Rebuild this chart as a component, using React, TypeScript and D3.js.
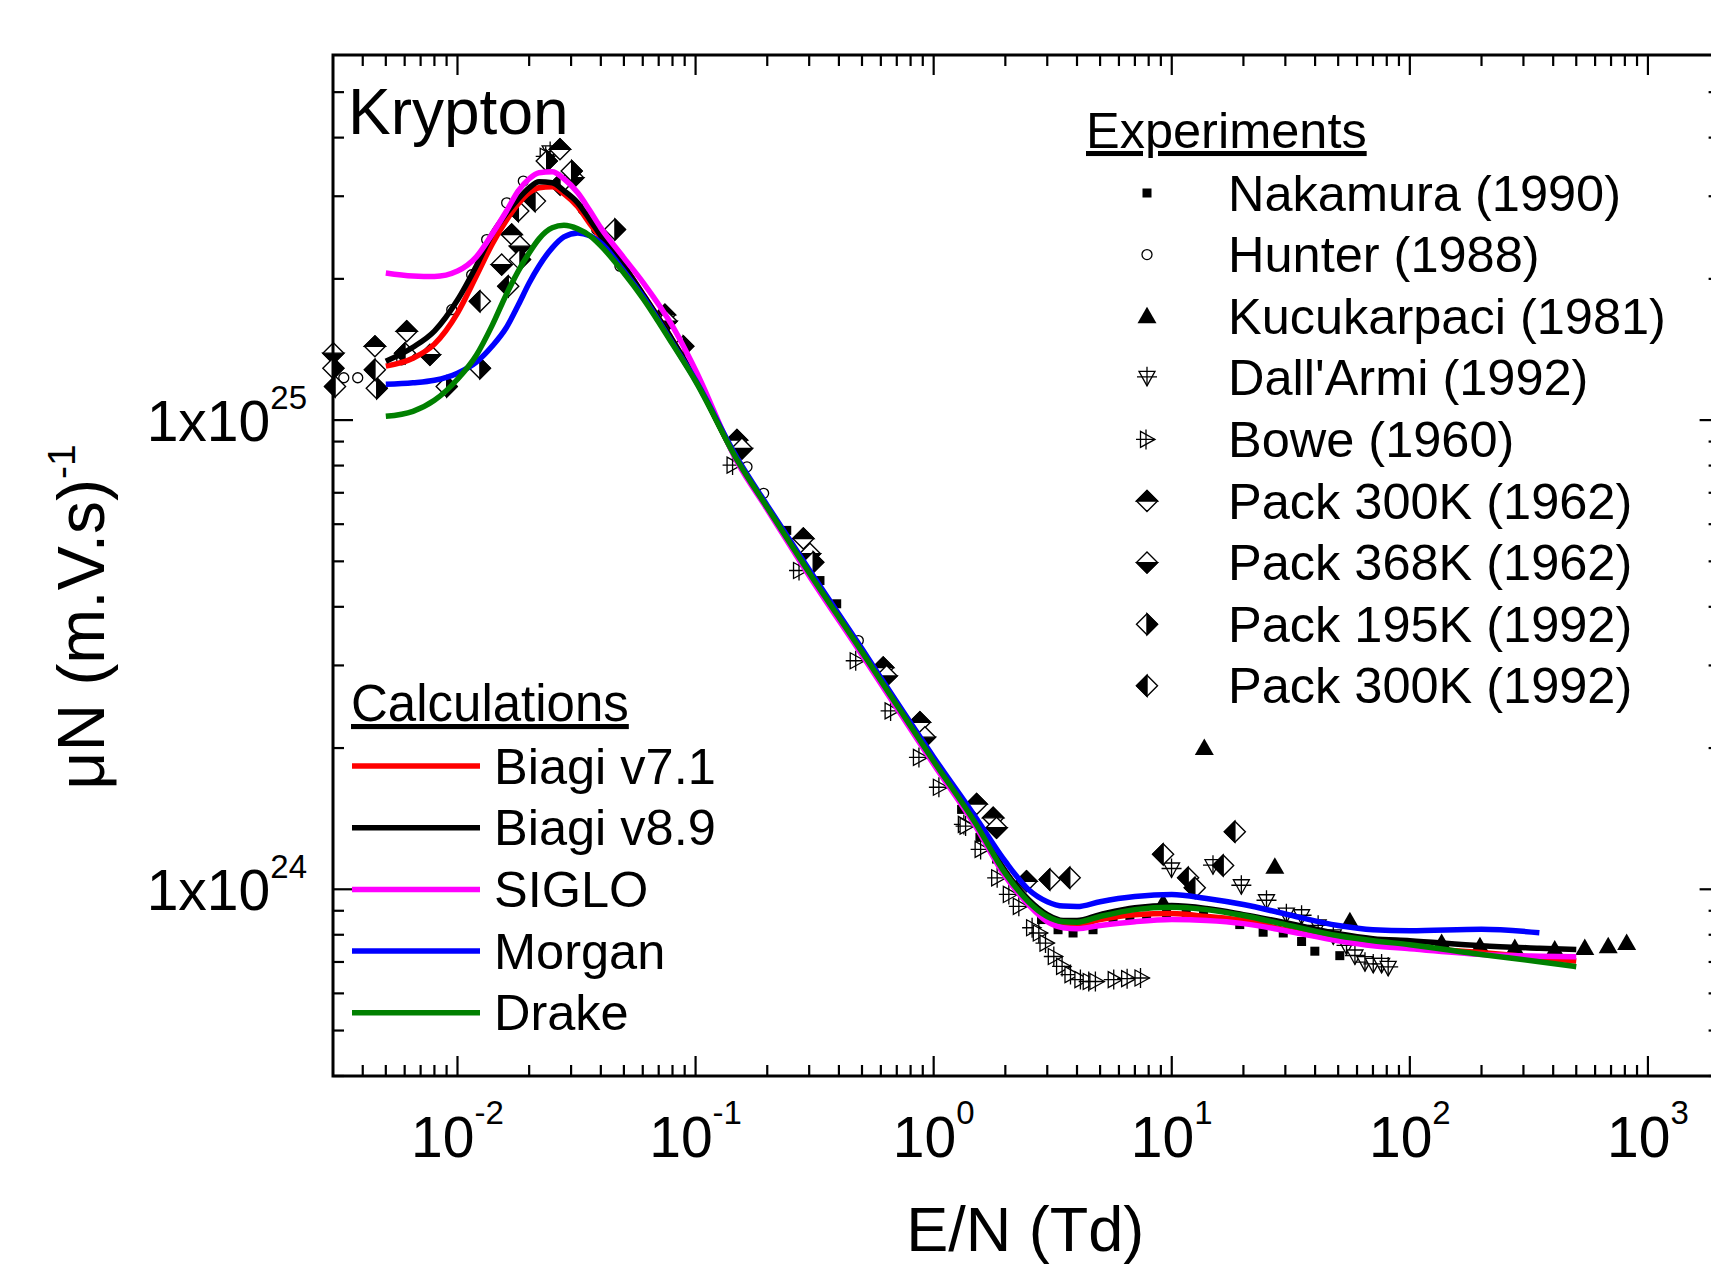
import React from 'react';
import * as d3 from 'd3';

// ---------------- data (E/N in Td, mobility μN in units of 1e24 (m.V.s)^-1) ----------------
const UNIT = 1e24;

const xTickValues = [0.01, 0.1, 1, 10, 100, 1000];
const xTickExponents = ['-2', '-1', '0', '1', '2', '3'];
const yTickValues = [1e24, 1e25];
const yTickExponents = ['24', '25'];

const calcE = [0.005, 0.0065, 0.008, 0.01, 0.012, 0.014, 0.016, 0.018, 0.02, 0.022, 0.025, 0.028, 0.032, 0.036, 0.04, 0.05, 0.06, 0.08, 0.1, 0.15, 0.2, 0.3, 0.5, 0.7, 1, 1.5, 2, 2.5, 3, 3.5, 4, 5, 7, 10, 14, 20, 30, 50, 70, 100, 200, 350, 500];

const biagi71 = [13.03, 13.55, 14.52, 16.91, 20.28, 23.75, 26.59, 28.9, 30.51, 31.27, 31.43, 30.36, 28.48, 26.2, 24.46, 21.31, 18.57, 14.81, 12.22, 8.2, 6.51, 4.75, 3.222, 2.482, 1.884, 1.389, 1.092, 0.941, 0.87, 0.845, 0.841, 0.862, 0.883, 0.888, 0.875, 0.858, 0.82, 0.781, 0.762, 0.751, 0.733, 0.715, 0.703];
const biagi89 = [13.35, 14.3, 15.48, 18.03, 21.31, 24.94, 27.52, 29.62, 31.27, 32.21, 32.05, 30.81, 29.04, 26.72, 24.7, 21.31, 18.57, 14.81, 12.22, 8.2, 6.51, 4.75, 3.222, 2.482, 1.884, 1.389, 1.092, 0.951, 0.883, 0.858, 0.858, 0.883, 0.914, 0.923, 0.91, 0.883, 0.849, 0.804, 0.785, 0.777, 0.758, 0.749, 0.744];
const siglo = [20.58, 20.28, 20.23, 20.78, 22.28, 24.94, 27.8, 30.81, 32.69, 33.67, 33.84, 32.69, 30.51, 27.93, 25.69, 22.17, 19.69, 15.86, 12.78, 8.12, 6.45, 4.66, 3.159, 2.434, 1.847, 1.362, 1.065, 0.928, 0.853, 0.828, 0.824, 0.837, 0.853, 0.862, 0.858, 0.845, 0.816, 0.777, 0.758, 0.747, 0.726, 0.72, 0.718];
const morgan = [11.92, 12.01, 12.16, 12.59, 13.29, 14.38, 15.71, 17.59, 19.6, 21.31, 23.29, 24.58, 25.06, 24.7, 23.86, 20.78, 18.38, 14.59, 12.16, 8.28, 6.58, 4.8, 3.254, 2.506, 1.912, 1.424, 1.146, 0.999, 0.941, 0.921, 0.919, 0.941, 0.965, 0.975, 0.956, 0.928, 0.886, 0.837, 0.82, 0.816, 0.822, 0.808, null];
const drake = [10.19, 10.44, 11.02, 12.22, 13.75, 15.94, 18.48, 20.78, 22.72, 24.34, 25.69, 26.01, 25.56, 24.7, 23.52, 20.58, 18.2, 14.52, 12.1, 8.2, 6.51, 4.73, 3.206, 2.47, 1.875, 1.382, 1.081, 0.941, 0.875, 0.853, 0.851, 0.875, 0.905, 0.916, 0.905, 0.879, 0.841, 0.796, 0.777, 0.762, 0.726, 0.701, 0.684];

const calcNames = ['Biagi v7.1', 'Biagi v8.9', 'SIGLO', 'Morgan', 'Drake'];
const calcColors = ['#ff0000', '#000000', '#ff00ff', '#0000ff', '#008000'];
const calcSeries = [biagi71, biagi89, siglo, morgan, drake];

const nakamura = [[0.2415, 5.82], [0.333, 4.55], [0.3915, 4.06], [1.31, 1.48], [1.564, 1.29], [1.837, 1.16], [2.838, 0.862], [3.33, 0.82], [3.85, 0.807], [4.67, 0.82], [5.67, 0.862], [6.67, 0.865], [7.84, 0.876], [9.51, 0.891], [11.5, 0.893], [13.6, 0.883], [19.3, 0.841], [24.2, 0.81], [29.4, 0.807], [35.1, 0.774], [39.9, 0.738], [50.8, 0.722]];
const hunter = [[0.00333, 12.31], [0.00381, 12.31], [0.00583, 13.44], [0.00946, 17.19], [0.01147, 20.41], [0.01326, 24.25], [0.01609, 29.04], [0.0189, 32.32], [0.03375, 28.11], [0.03844, 25.48], [0.04812, 21.28], [0.1644, 7.95], [0.1931, 6.98], [0.4825, 3.39]];
const kucukarpaci = [[9.2, 0.935], [13.7, 2.0], [27.1, 1.117], [56, 0.855], [136, 0.768], [197, 0.756], [276, 0.75], [406, 0.744], [543, 0.75], [681, 0.756], [814, 0.768]];
const dallArmi = [[0.0245, 37.2], [9.98, 1.102], [14.9, 1.12], [19.6, 1.015], [25.0, 0.943], [30.3, 0.883], [35.1, 0.876], [41.2, 0.834], [47.7, 0.794], [54.2, 0.756], [58.8, 0.719], [64.8, 0.696], [70.2, 0.69], [76.1, 0.69], [81.1, 0.68]];
const bowe = [[0.0237, 36.5], [0.1444, 8.02], [0.2746, 4.78], [0.4751, 3.07], [0.6658, 2.4], [0.8756, 1.91], [1.062, 1.65], [1.352, 1.375], [1.375, 1.364], [1.59, 1.216], [1.866, 1.058], [2.089, 0.975], [2.301, 0.92], [2.616, 0.828], [2.791, 0.807], [2.978, 0.768], [3.227, 0.719], [3.496, 0.685], [3.792, 0.658], [4.174, 0.642], [4.523, 0.636], [4.825, 0.636], [5.761, 0.642], [6.558, 0.645], [7.464, 0.647]];
const pack300K1962 = [[0.0045, 14.36], [0.00612, 15.46], [0.01689, 24.86], [0.02694, 37.76], [0.07434, 16.77], [0.1492, 9.07], [0.2835, 5.59], [0.6139, 2.97], [0.8756, 2.27], [1.515, 1.52], [1.778, 1.42], [2.455, 1.04]];
const pack368K1962 = [[0.00301, 13.89], [0.00766, 13.78], [0.01533, 21.45], [0.0183, 23.48], [0.03064, 32.85], [0.07557, 16.24], [0.1566, 8.7], [0.3024, 5.19], [0.6345, 2.85], [0.919, 2.11], [1.837, 1.353]];
const pack195K1992 = [[0.00301, 12.9], [0.00458, 11.69], [0.00901, 11.79], [0.01242, 12.9], [0.0183, 21.98], [0.0237, 35.67], [0.03017, 33.96], [0.04585, 25.48], [0.08876, 14.36], [0.312, 4.98]];
const pack300K1992 = [[0.00306, 11.79], [0.0045, 12.8], [0.00602, 13.89], [0.01242, 17.91], [0.01634, 19.28], [0.01801, 27.89], [0.02116, 29.29], [0.02694, 31.79], [3.074, 1.049], [3.729, 1.058], [9.2, 1.187], [11.72, 1.058], [12.5, 1.007], [16.44, 1.124], [18.41, 1.327]];

const expNames = ['Nakamura (1990)', 'Hunter (1988)', 'Kucukarpaci (1981)', "Dall'Armi (1992)", 'Bowe (1960)', 'Pack 300K (1962)', 'Pack 368K (1962)', 'Pack 195K (1992)', 'Pack 300K (1992)'];
const expTypes = ['square', 'circle', 'triUp', 'dallarmi', 'bowe', 'diaTop', 'diaBottom', 'diaRight', 'diaLeft'];
const expSeries = [nakamura, hunter, kucukarpaci, dallArmi, bowe, pack300K1962, pack368K1962, pack195K1992, pack300K1992];

// ---------------- drawing ----------------
const FONT = '"Liberation Sans", Arial, Helvetica, sans-serif';
const W = 1711;
const H = 1266;

function Marker({ type, cx, cy }: { type: string; cx: number; cy: number }) {
  const sw = 1.4;
  const r = 10.5;
  const t = `translate(${cx},${cy})`;
  const dia = `M0,${-r} L${r},0 L0,${r} L${-r},0 Z`;
  const half: Record<string, string> = {
    diaTop: `M${-r},0 L0,${-r} L${r},0 Z`,
    diaBottom: `M${-r},0 L0,${r} L${r},0 Z`,
    diaRight: `M0,${-r} L${r},0 L0,${r} Z`,
    diaLeft: `M0,${-r} L${-r},0 L0,${r} Z`,
  };
  switch (type) {
    case 'square':
      return <rect x={cx - 4.5} y={cy - 4.5} width={9} height={9} fill="#000" />;
    case 'circle':
      return <circle cx={cx} cy={cy} r={5} fill="#fff" stroke="#000" strokeWidth={1.3} />;
    case 'triUp':
      return <path transform={t} d="M0,-9.5 L9.5,7 L-9.5,7 Z" fill="#000" />;
    case 'dallarmi':
      return (
        <g transform={t} fill="none" stroke="#000" strokeWidth={1.3}>
          <path d="M-8,-6.5 L8,-6.5 L0,8 Z" fill="#fff" />
          <path d="M0,-11 V8 M-10,-1 H10" />
        </g>
      );
    case 'bowe':
      return (
        <g transform={t} fill="none" stroke="#000" strokeWidth={1.3}>
          <path d="M-6.5,-8 L-6.5,8 L8,0 Z" fill="#fff" />
          <path d="M-11,0 H8 M-1,-10 V10" />
        </g>
      );
    default:
      return (
        <g transform={t}>
          <path d={dia} fill="#fff" stroke="#000" strokeWidth={sw} />
          <path d={half[type]} fill="#000" stroke="#000" strokeWidth={sw} strokeLinejoin="miter" />
        </g>
      );
  }
}

export default function App() {
  const x = d3.scaleLog().domain([0.003, 2000]).range([333, 1719.6]);
  const y = d3.scaleLog().domain([4e23, 6e25]).range([1076, 55]);
  const [x0, x1] = x.range();
  const [y0, y1] = y.range(); // y0 bottom, y1 top

  const xMinor: number[] = [];
  for (let d = -3; d <= 3; d++) {
    for (let k = 2; k <= 9; k++) {
      const v = k * Math.pow(10, d);
      if (v > 0.003 && v < 2000) xMinor.push(v);
    }
  }
  const yMinor: number[] = [];
  for (let d = 23; d <= 25; d++) {
    for (let k = 2; k <= 9; k++) {
      const v = k * Math.pow(10, d);
      if (v >= 4e23 && v <= 6e25) yMinor.push(v);
    }
  }
  const MAJ = 20;
  const MIN = 11;

  const line = d3
    .line<[number, number | null]>()
    .defined((d) => d[1] != null)
    .x((d) => x(d[0]))
    .y((d) => y((d[1] as number) * UNIT))
    .curve(d3.curveMonotoneX);

  const legendExpX = 1147;
  const legendExpTextX = 1228;
  const legendExpY0 = 193;
  const legendRow = 61.6;
  const calcRowY0 = 766;
  const calcRow = 61.7;

  return (
    <div style={{ position: 'absolute', left: 0, top: 0, width: W, height: H, background: '#fff' }}>
      <svg width={W} height={H} viewBox={`0 0 ${W} ${H}`} style={{ display: 'block', fontFamily: FONT }}>
        <rect x={0} y={0} width={W} height={H} fill="#fff" />

        {/* experimental markers */}
        {expSeries.map((s, i) => (
          <g key={'exp' + i}>
            {s.map((p, j) => (
              <Marker key={j} type={expTypes[i]} cx={x(p[0])} cy={y(p[1] * UNIT)} />
            ))}
          </g>
        ))}

        {/* calculation curves */}
        {calcSeries.map((vals, i) => (
          <path
            key={'calc' + i}
            d={line(calcE.map((e, j) => [e, vals[j]] as [number, number | null])) || ''}
            fill="none"
            stroke={calcColors[i]}
            strokeWidth={5.5}
            strokeLinejoin="round"
          />
        ))}

        {/* frame */}
        <rect x={x0} y={y1} width={x1 - x0} height={y0 - y1} fill="none" stroke="#000" strokeWidth={3} />

        {/* ticks */}
        <g stroke="#000" strokeWidth={2.2}>
          {xTickValues.map((v, i) => (
            <g key={'xM' + i}>
              <line x1={x(v)} x2={x(v)} y1={y0} y2={y0 - MAJ} />
              <line x1={x(v)} x2={x(v)} y1={y1} y2={y1 + MAJ} />
            </g>
          ))}
          {xMinor.map((v, i) => (
            <g key={'xm' + i}>
              <line x1={x(v)} x2={x(v)} y1={y0} y2={y0 - MIN} />
              <line x1={x(v)} x2={x(v)} y1={y1} y2={y1 + MIN} />
            </g>
          ))}
          {yTickValues.map((v, i) => (
            <g key={'yM' + i}>
              <line x1={x0} x2={x0 + MAJ} y1={y(v)} y2={y(v)} />
              <line x1={x1} x2={x1 - MAJ} y1={y(v)} y2={y(v)} />
            </g>
          ))}
          {yMinor.map((v, i) => (
            <g key={'ym' + i}>
              <line x1={x0} x2={x0 + MIN} y1={y(v)} y2={y(v)} />
              <line x1={x1} x2={x1 - MIN} y1={y(v)} y2={y(v)} />
            </g>
          ))}
        </g>

        {/* x tick labels */}
        {xTickValues.map((v, i) => (
          <text key={'xl' + i} x={x(v)} y={1157} textAnchor="middle" fontSize={57} fill="#000">
            <tspan>10</tspan>
            <tspan dy={-33} fontSize={33}>{xTickExponents[i]}</tspan>
          </text>
        ))}

        {/* y tick labels */}
        {yTickValues.map((v, i) => (
          <text key={'yl' + i} x={307} y={y(v) + 21} textAnchor="end" fontSize={57} fill="#000">
            <tspan>1x10</tspan>
            <tspan dy={-32} fontSize={33}>{yTickExponents[i]}</tspan>
          </text>
        ))}

        {/* axis titles */}
        <text x={(x0 + x1) / 2 - 1} y={1251} textAnchor="middle" fontSize={63} fill="#000">
          E/N (Td)
        </text>
        <text transform={`translate(104,617) rotate(-90)`} textAnchor="middle" fontSize={66} fill="#000">
          <tspan>μN (m.V.s)</tspan>
          <tspan dy={-29} fontSize={39}>-1</tspan>
        </text>

        {/* title */}
        <text x={348} y={134} fontSize={64} fill="#000">
          Krypton
        </text>

        {/* experiments legend */}
        <text x={1086} y={148} fontSize={50.5} fill="#000" style={{ textDecoration: 'underline' }}>
          Experiments
        </text>
        {expNames.map((n, i) => {
          const cy = legendExpY0 + i * legendRow;
          return (
            <g key={'le' + i}>
              <Marker type={expTypes[i]} cx={legendExpX} cy={cy} />
              <text x={legendExpTextX} y={cy + 17.5} fontSize={50.5} fill="#000">
                {n}
              </text>
            </g>
          );
        })}

        {/* calculations legend */}
        <text x={351} y={721} fontSize={51} fill="#000" style={{ textDecoration: 'underline' }}>
          Calculations
        </text>
        {calcNames.map((n, i) => {
          const cy = calcRowY0 + i * calcRow;
          return (
            <g key={'lc' + i}>
              <line x1={352} x2={480} y1={cy} y2={cy} stroke={calcColors[i]} strokeWidth={5.5} />
              <text x={494} y={cy + 17.5} fontSize={50.5} fill="#000">
                {n}
              </text>
            </g>
          );
        })}
      </svg>
    </div>
  );
}
